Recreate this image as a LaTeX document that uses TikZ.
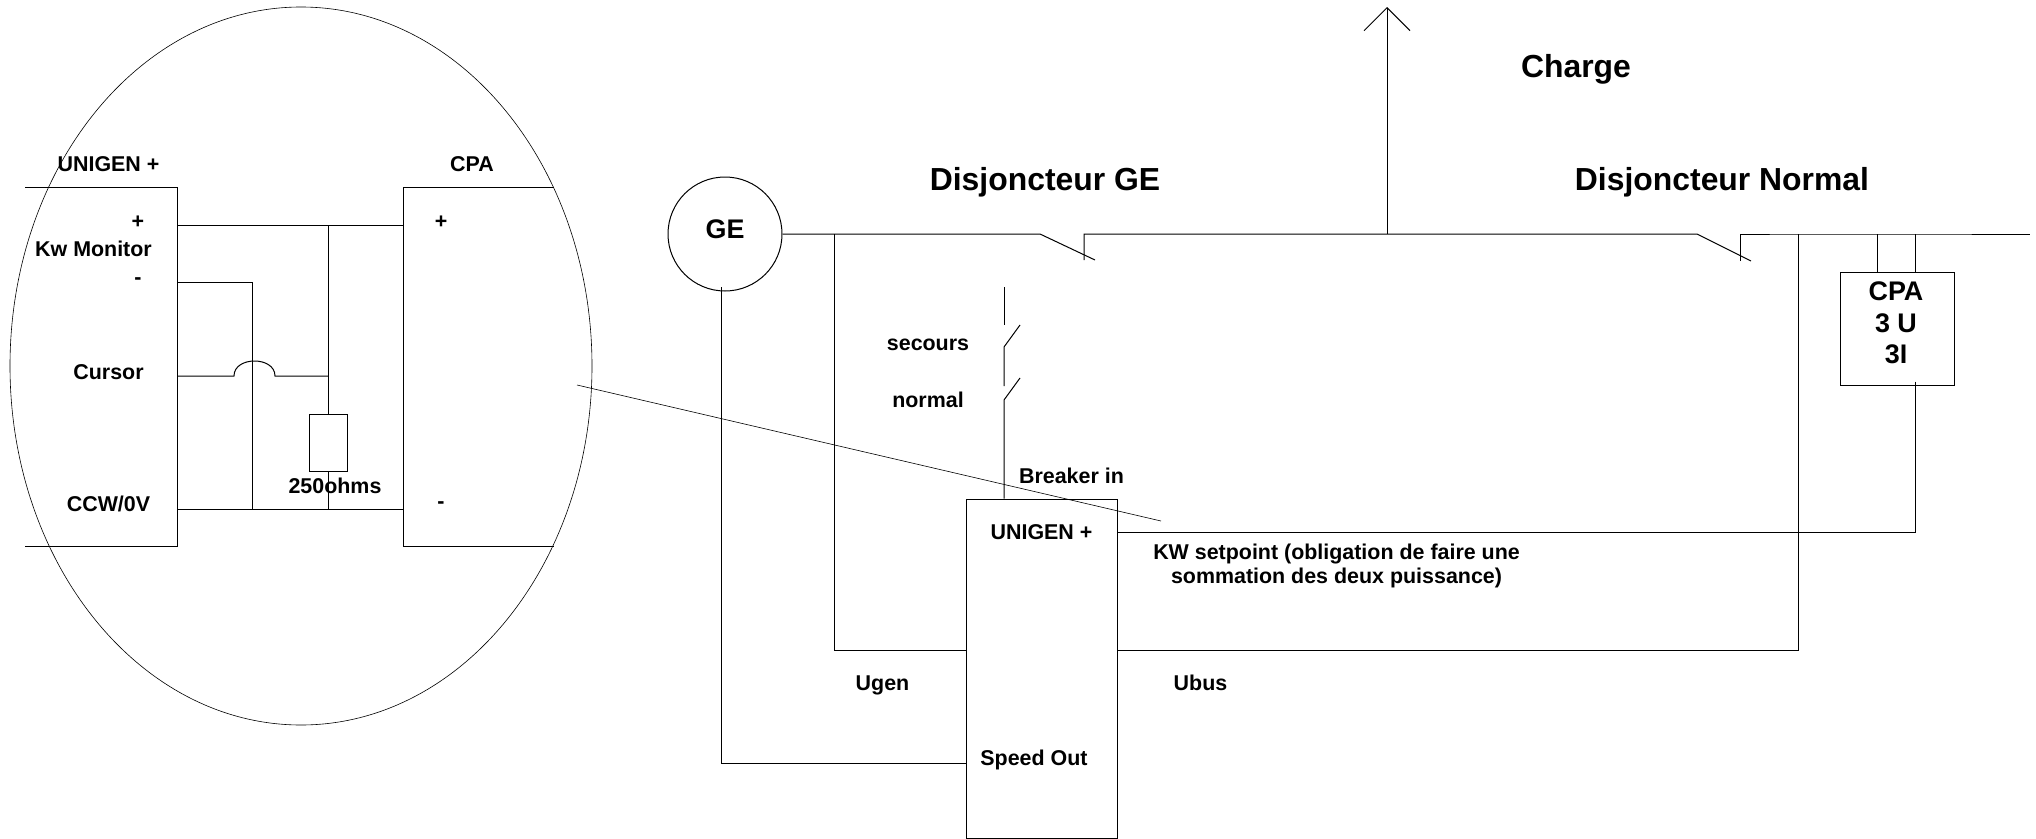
\documentclass[tikz,border=0pt]{standalone}
\usepackage{fontspec}
\setmainfont{Liberation Sans}
\usetikzlibrary{arrows.meta, shapes.geometric, positioning}
\tikzset{
  lblsmall/.style={inner sep=0pt, align=center, font=\bfseries\fontsize{21.5}{25}\selectfont},
  lblmid/.style={inner sep=0pt, align=center, font=\bfseries\fontsize{27}{31.5}\selectfont},
  lblbig/.style={inner sep=0pt, align=center, font=\bfseries\fontsize{32}{38}\selectfont},
  boxnode/.style={draw, rectangle, inner sep=0pt},
  thinline/.style={line width=.6bp},
}

\begin{document}
\begin{tikzpicture}[x=1bp,y=-1bp,line width=1bp,line join=miter]
\useasboundingbox (0,0) rectangle (2036,839);
%%
  % Node: detail ellipse
  \node[draw, thinline, ellipse, inner sep=0pt, minimum width=582bp, minimum height=718bp] (detail) at (301,366) {};
  % Node: machine symbols
  \node[draw, circle, inner sep=0pt, minimum size=114bp, text height=14bp, text depth=5bp, lblmid] (ge) at (725,234) {GE};
  \node[boxnode, minimum width=151bp, minimum height=339bp] (unigen) at (1041.5,668.5) {};
  \node[boxnode, minimum width=114bp, minimum height=113bp] (cpabox) at (1897,328.5) {};
  \node[boxnode, minimum width=38bp, minimum height=57bp] (shunt) at (328.5,442.5) {};
  % Coordinates: main bus
  \coordinate (gefork) at (834.5,234);
  \coordinate (brkgeA) at (1040,234);
  \coordinate (brkgeB) at (1095,260);
  \coordinate (brkgeC) at (1084,260);
  \coordinate (brkgeD) at (1084,234);
  \coordinate (loadjoin) at (1387,234);
  \coordinate (loadtop) at (1387,7);
  \coordinate (brknoA) at (1697,234);
  \coordinate (brknoB) at (1751,261);
  \coordinate (brknoC) at (1740,261);
  \coordinate (brknoD) at (1740,234);
  \coordinate (busfork) at (1798,234);
  \coordinate (cpaU) at (1877,234);
  \coordinate (cpaI) at (1915,234);
  \coordinate (busend) at (2030,234);
  % Coordinates: measure and control wires
  \coordinate (ugenjoin) at (834.5,650);
  \coordinate (ubusjoin) at (1798,650);
  \coordinate (speedtop) at (721,287);
  \coordinate (speedjoin) at (721,763);
  \coordinate (setjoin) at (1915,532);
  % Coordinates: breaker in contacts
  \coordinate (secA) at (1004,287);
  \coordinate (secB) at (1004,325);
  \coordinate (secC) at (1020,325);
  \coordinate (secD) at (1004,347);
  \coordinate (norB) at (1004,386);
  \coordinate (norC) at (1020,378);
  \coordinate (norD) at (1004,400);
  % Coordinates: detail view
  \coordinate (monTL) at (25,187);
  \coordinate (monTR) at (177,187);
  \coordinate (monBR) at (177,546);
  \coordinate (monBL) at (25,546);
  \coordinate (rcvTR) at (554,187);
  \coordinate (rcvTL) at (403,187);
  \coordinate (rcvBL) at (403,546);
  \coordinate (rcvBR) at (554,546);
  \coordinate (plusA) at (177,225);
  \coordinate (plusB) at (403,225);
  \coordinate (plusT) at (328.5,225);
  \coordinate (minusA) at (177,282);
  \coordinate (minusB) at (252,282);
  \coordinate (minusC) at (252,509);
  \coordinate (zeroA) at (177,509);
  \coordinate (zeroB) at (403,509);
  \coordinate (zeroT) at (328.5,509);
  \coordinate (curA) at (177,376);
  \coordinate (curB) at (234,376);
  \coordinate (curC) at (275,376);
  \coordinate (curD) at (328.5,376);
  \coordinate (leadA) at (577,385);
  \coordinate (leadB) at (1161,521);
  % Edge: bus
  \draw (ge.east |- gefork) -- (gefork) -- (brkgeA) -- (brkgeB);
  \draw (brkgeC) -- (brkgeD) -- (loadjoin) -- (brknoA) -- (brknoB);
  \draw (brknoC) -- (brknoD) -- (busfork) -- (cpaU) -- (cpaI) -- (busend);
  % Edge: bus -- load
  \draw[-{Straight Barb[length=23bp,width=46bp]}] (loadjoin) -- (loadtop);
  % Edge: bus -- cpa
  \draw (cpaU) -- (cpaU |- cpabox.north);
  \draw (cpaI) -- (cpaI |- cpabox.north);
  % Edge: voltage sensing
  \draw (gefork) -- (ugenjoin) -- (unigen.west |- ugenjoin);
  \draw (busfork) -- (ubusjoin) -- (unigen.east |- ubusjoin);
  % Edge: speed out
  \draw (speedtop) -- (speedjoin) -- (unigen.west |- speedjoin);
  % Edge: setpoint
  \draw (cpaI |- cpabox.south) ++(0,-4) -- (setjoin) -- (unigen.east |- setjoin);
  % Edge: breaker in
  \draw (secA) -- (secB);
  \draw (secC) -- (secD) -- (norB);
  \draw (norC) -- (norD) -- (norD |- unigen.north);
  % Edge: detail view
  \draw (monTL) -- (monTR) -- (monBR) -- (monBL);
  \draw (rcvTR) -- (rcvTL) -- (rcvBL) -- (rcvBR);
  \draw (plusA) -- (plusB);
  \draw (plusT) -- (shunt.north);
  \draw (shunt.south) -- (zeroT);
  \draw (minusA) -- (minusB) -- (minusC);
  \draw (zeroA) -- (zeroB);
  \draw (curA) -- (curB) .. controls (234,356) and (275,356) .. (curC) -- (curD);
  % Edge: detail lead
  \draw[thinline] (leadA) -- (leadB);
  % Labels
  \node[lblbig] (lblcharge) at (1576,69) {Charge};
  \node[lblbig] (lbldge) at (1045,182) {Disjoncteur GE};
  \node[lblbig] (lbldno) at (1722,182) {Disjoncteur Normal};
  \node[lblmid] (lblcpa) at (1896,323) {CPA\\3 U\\3I};
  \node[lblsmall] (lblmon) at (108.5,164) {UNIGEN +};
  \node[lblsmall] (lblrcv) at (472,164) {CPA};
  \node[lblsmall] (lblmonp) at (138,222) {+};
  \node[lblsmall] (lblkw) at (93.5,249) {Kw Monitor};
  \node[lblsmall] (lblmonm) at (138,281) {-};
  \node[lblsmall] (lblcur) at (108.5,372) {Cursor};
  \node[lblsmall] (lbl250) at (335,486) {250ohms};
  \node[lblsmall] (lblccw) at (108.5,504) {CCW/0V};
  \node[lblsmall] (lblrcvp) at (441,222) {+};
  \node[lblsmall] (lblrcvm) at (441,505) {-};
  \node[lblsmall] (lblsec) at (928,345) {secours};
  \node[lblsmall] (lblnor) at (928,400) {normal};
  \node[lblsmall] (lblbrk) at (1071.5,476) {Breaker in};
  \node[lblsmall] (lbluni) at (1041.5,532) {UNIGEN +};
  \node[lblsmall] (lblset) at (1336.5,566) {KW setpoint (obligation de faire une\\sommation des deux puissance)};
  \node[lblsmall] (lblugen) at (882.5,685) {Ugen};
  \node[lblsmall] (lblubus) at (1200.5,683) {Ubus};
  \node[lblsmall] (lblspeed) at (1034,760) {Speed Out};
%
\end{tikzpicture}
\end{document}
